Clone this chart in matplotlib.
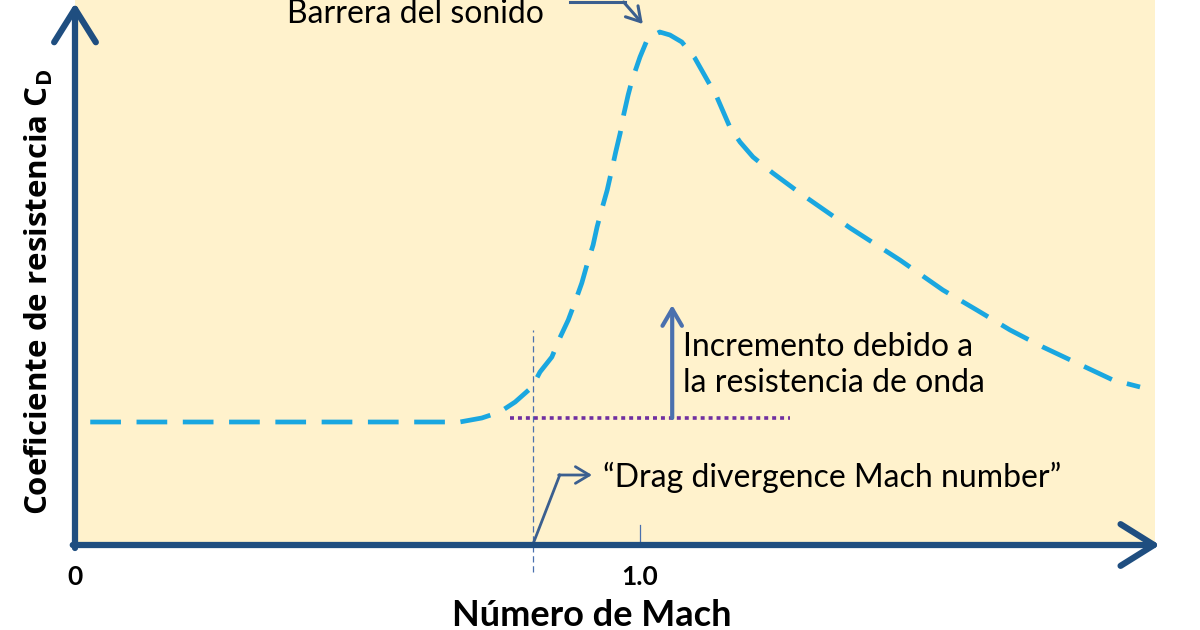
import matplotlib.pyplot as plt
from matplotlib.patches import Rectangle

# curve: Mach number vs drag coefficient (arbitrary units)
mach = [0.027, 0.398, 0.681, 0.720, 0.752, 0.779, 0.809, 0.823, 0.844, 0.858,
        0.873, 0.885, 0.897, 0.906, 0.917, 0.924, 0.933, 0.942, 0.950, 0.957,
        0.965, 0.971, 0.979, 0.986, 1.000, 1.014, 1.035, 1.053, 1.074, 1.097,
        1.112, 1.136, 1.159, 1.177, 1.200, 1.235, 1.283, 1.372, 1.460, 1.536,
        1.596, 1.655, 1.713, 1.773, 1.837, 1.885]
cd = [0.0123, 0.0123, 0.0123, 0.0127, 0.0133, 0.0143, 0.0158, 0.0173, 0.0188, 0.0207,
      0.0225, 0.0243, 0.0262, 0.0280, 0.0300, 0.0318, 0.0337, 0.0355, 0.0375, 0.0393,
      0.0412, 0.0430, 0.0450, 0.0465, 0.0488, 0.0507, 0.0513, 0.0510, 0.0503, 0.0487,
      0.0472, 0.0448, 0.0418, 0.0403, 0.0388, 0.0372, 0.0352, 0.0317, 0.0285, 0.0255,
      0.0235, 0.0215, 0.0198, 0.0182, 0.0165, 0.0158]

xtick_pos = [0, 1.0]
xtick_lab = ["0", "1.0"]

m_dd = 0.81          # drag divergence Mach number
cd_base = 0.0127     # subsonic drag level (dotted line)
cd_rise = 0.0240     # top of the "incremento" arrow
x_max = 1.92
y_max = 0.0545

axis_col = "#1F4E80"
curve_col = "#1AA7E0"
note_col = "#3B5F8F"
font = ["Lato", "DejaVu Sans"]

fig = plt.figure(figsize=(12, 6.3), dpi=100)
ax = fig.add_axes([0, 0, 1, 1])
ax.set_xlim(-75 / 565, 1125 / 565)
ax.set_ylim(-0.0085, 0.0545)
ax.axis("off")

ax.add_patch(Rectangle((0, 0), 1.9115, 0.06, facecolor="#FFF2CC", edgecolor="none", zorder=0))

# axes with open arrow heads
arrow_kw = dict(arrowstyle="->,head_length=1.2,head_width=0.75", lw=4.5, color=axis_col,
                shrinkA=0, shrinkB=0, mutation_scale=20, capstyle="round", joinstyle="round")
ax.annotate("", xy=(x_max, 0), xytext=(-0.004, 0), arrowprops=arrow_kw, zorder=5)
ax.annotate("", xy=(0, y_max - 0.0003), xytext=(0, -0.0003), arrowprops=arrow_kw, zorder=5)

# drag curve
ax.plot(mach, cd, color=curve_col, lw=3.4, dashes=(6.5, 3.3), solid_capstyle="butt", zorder=3)

# dotted base level and increment arrow
ax.plot([0.770, 1.265], [cd_base, cd_base], color="#7030A0", lw=2.6, dashes=(1.1, 1.1), zorder=2)
ax.annotate("", xy=(1.057, cd_rise), xytext=(1.057, cd_base),
            arrowprops=dict(arrowstyle="->,head_length=0.6,head_width=0.35", lw=3,
                            color="#4A70AE", shrinkA=0, shrinkB=0, mutation_scale=20), zorder=4)
ax.text(1.076, 0.0180, "Incremento debido a\nla resistencia de onda", family=font,
        fontsize=23, ha="left", va="center", linespacing=1.25)

# drag divergence marker
ax.plot([m_dd, m_dd], [-0.0027, 0.0215], color="#4A70AE", lw=0.9, dashes=(5, 3), zorder=2)
ax.plot([1.0, 1.0], [0, 0.002], color="#4A70AE", lw=0.9, zorder=2)
ax.plot([m_dd, 0.858], [0, 0.0070], color=note_col, lw=2, zorder=4)
ax.annotate("", xy=(0.915, 0.0070), xytext=(0.856, 0.0070),
            arrowprops=dict(arrowstyle="->,head_length=0.5,head_width=0.3", lw=2,
                            color=note_col, shrinkA=0, shrinkB=0, mutation_scale=20), zorder=4)
ax.text(0.935, 0.0068, "\u201cDrag divergence Mach number\u201d", family=font,
        fontsize=23, ha="left", va="center")

# sound barrier note
ax.plot([0.876, 0.973], [0.0543, 0.0543], color=note_col, lw=2.2, zorder=4)
ax.annotate("", xy=(1.005, 0.0521), xytext=(0.971, 0.0543),
            arrowprops=dict(arrowstyle="->,head_length=0.5,head_width=0.3", lw=2.2,
                            color=note_col, shrinkA=0, shrinkB=0, mutation_scale=20), zorder=4)
ax.text(0.375, 0.0522, "Barrera del sonido", family=font, fontsize=23,
        ha="left", va="baseline")

# tick labels and axis titles
for p, lab in zip(xtick_pos, xtick_lab):
    ax.text(p, -0.0032, lab, family=font, fontsize=19, fontweight="bold",
            ha="center", va="center")
ax.text(0.914, -0.0070, "Número de Mach", family=font, fontsize=26, fontweight="bold",
        ha="center", va="center")
ax.text(-0.063, 0.0253, r"Coeficiente de resistencia C$_{\mathregular{D}}$",
        family=["Open Sans", "DejaVu Sans"], fontsize=22.5, fontweight="bold",
        rotation=90, ha="center", va="center")

fig.savefig("out.png", dpi=100)
